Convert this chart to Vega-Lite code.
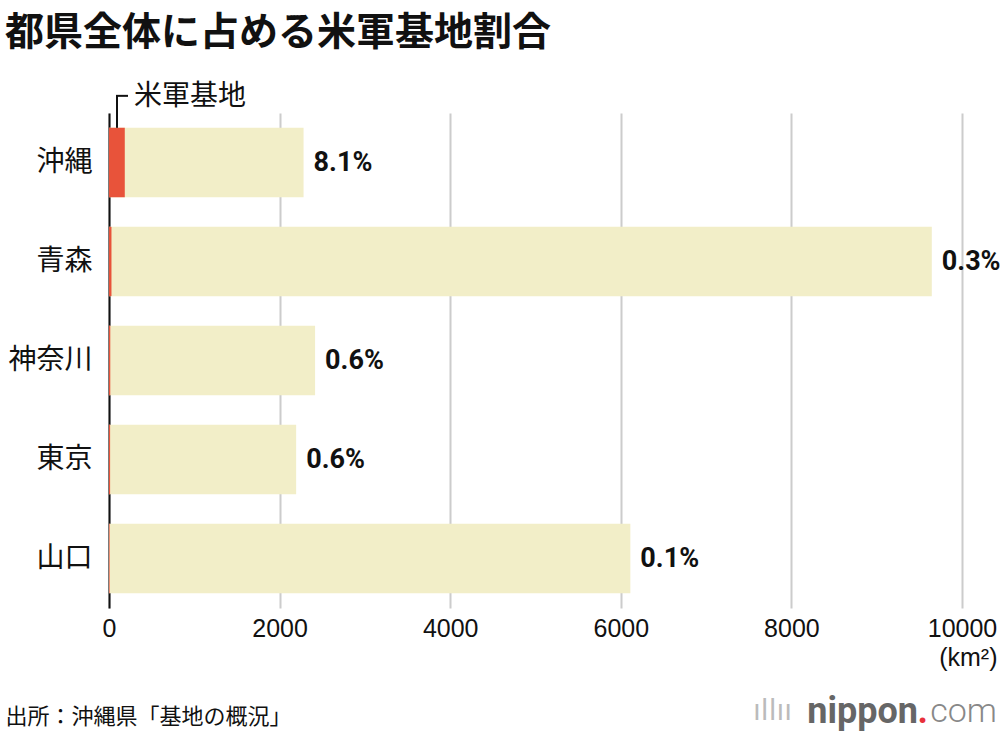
{
  "$schema": "https://vega.github.io/schema/vega-lite/v6.json",
  "width": 853,
  "height": 495,
  "autosize": {"type": "none"},
  "padding": {"left": 109, "top": 113, "right": 38, "bottom": 124},
  "background": "white",
  "title": {
    "text": "都県全体に占める米軍基地割合",
    "anchor": "start",
    "frame": "group",
    "dx": -104,
    "offset": 30,
    "fontSize": 39,
    "font": "Noto Sans CJK JP",
    "fontWeight": "bold",
    "color": "#111111"
  },
  "config": {
    "view": {"stroke": null},
    "axis": {"labelColor": "#111111", "titleColor": "#111111"}
  },
  "datasets": {
    "main": [
      {"pref": "沖縄", "total": 2281, "base": 185, "label": "8.1%"},
      {"pref": "青森", "total": 9646, "base": 29, "label": "0.3%"},
      {"pref": "神奈川", "total": 2416, "base": 15, "label": "0.6%"},
      {"pref": "東京", "total": 2194, "base": 13, "label": "0.6%"},
      {"pref": "山口", "total": 6112, "base": 7, "label": "0.1%"}
    ]
  },
  "data": {"name": "main"},
  "encoding": {
    "y": {
      "field": "pref",
      "type": "nominal",
      "sort": null,
      "scale": {"paddingInner": 0.3, "paddingOuter": 0.15},
      "axis": {
        "title": "出所：沖縄県「基地の概況」",
        "titleAngle": 0,
        "titleX": -104,
        "titleY": 603,
        "titleAlign": "left",
        "titleBaseline": "middle",
        "titleFont": "Noto Sans CJK JP",
        "titleFontSize": 22,
        "titleFontWeight": "normal",
        "labelFont": "Noto Sans CJK JP",
        "labelFontSize": 28,
        "labelPadding": 17,
        "ticks": false,
        "domain": true,
        "domainColor": "#111111",
        "domainWidth": 2,
        "grid": false
      }
    }
  },
  "layer": [
    {
      "mark": {"type": "bar", "color": "#F2EEC8"},
      "encoding": {
        "x": {
          "field": "total",
          "type": "quantitative",
          "scale": {"domain": [0, 10000], "nice": false},
          "axis": {
            "values": [0, 2000, 4000, 6000, 8000, 10000],
            "format": "d",
            "grid": true,
            "gridColor": "#cccccc",
            "gridWidth": 2,
            "domain": false,
            "ticks": false,
            "labelFont": "Liberation Sans",
            "labelFontSize": 25,
            "labelPadding": 8,
            "labelFlush": false,
            "title": "(km²)",
            "titleX": 888,
            "titleY": 49,
            "titleAlign": "right",
            "titleBaseline": "middle",
            "titleAnchor": "end",
            "titleFont": "Liberation Sans",
            "titleFontSize": 25,
            "titleFontWeight": "normal"
          }
        }
      }
    },
    {
      "mark": {"type": "bar", "color": "#E8533A"},
      "encoding": {"x": {"field": "base", "type": "quantitative"}}
    },
    {
      "mark": {"type": "text", "align": "left", "baseline": "middle", "dx": 10, "font": "Roboto", "fontWeight": "bold", "fontSize": 27, "color": "#111111"},
      "encoding": {
        "x": {"field": "total", "type": "quantitative"},
        "text": {"field": "label"}
      }
    },
    {
      "data": {"values": [{"t": "米軍基地"}]},
      "mark": {"type": "text", "align": "left", "baseline": "middle", "dx": 25, "dy": -66, "font": "Noto Sans CJK JP", "fontSize": 28, "color": "#111111"},
      "encoding": {
        "x": {"datum": 0},
        "y": {"datum": "沖縄"},
        "text": {"field": "t"}
      }
    },
    {
      "data": {"values": [{"t": 1}]},
      "mark": {"type": "rule", "color": "#111111", "strokeWidth": 2, "y2Offset": -66.5},
      "encoding": {
        "x": {"datum": 94},
        "y": {"datum": "沖縄", "bandPosition": 0},
        "y2": {"datum": "沖縄"}
      }
    },
    {
      "data": {"values": [{"t": 1}]},
      "mark": {"type": "rule", "color": "#111111", "strokeWidth": 2, "yOffset": -32},
      "encoding": {
        "x": {"datum": 82},
        "x2": {"datum": 223},
        "y": {"datum": "沖縄", "bandPosition": 0}
      }
    },
    {
      "data": {"values": [{"t": "nippon"}]},
      "mark": {"type": "text", "align": "right", "baseline": "middle", "dx": -44, "dy": 153, "font": "Roboto", "fontWeight": "bold", "fontSize": 36, "color": "#666666"},
      "encoding": {"x": {"datum": 10000}, "y": {"datum": "山口"}, "text": {"field": "t"}}
    },
    {
      "data": {"values": [{"t": "."}]},
      "mark": {"type": "text", "align": "right", "baseline": "middle", "dx": -34, "dy": 153, "font": "Roboto", "fontWeight": "bold", "fontSize": 36, "color": "#E8303A"},
      "encoding": {"x": {"datum": 10000}, "y": {"datum": "山口"}, "text": {"field": "t"}}
    },
    {
      "data": {"values": [{"t": "com"}]},
      "mark": {"type": "text", "align": "right", "baseline": "middle", "dx": 35, "dy": 153, "font": "Roboto", "fontWeight": 300, "fontSize": 34, "color": "#888888"},
      "encoding": {"x": {"datum": 10000}, "y": {"datum": "山口"}, "text": {"field": "t"}}
    },
    {
      "data": {"values": [{"t": "ıllıı"}]},
      "mark": {"type": "text", "align": "right", "baseline": "middle", "dx": -170, "dy": 153, "font": "DejaVu Sans", "fontSize": 28, "color": "#bbbbbb"},
      "encoding": {"x": {"datum": 10000}, "y": {"datum": "山口"}, "text": {"field": "t"}}
    }
  ]
}
